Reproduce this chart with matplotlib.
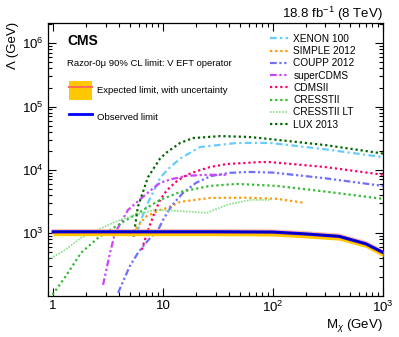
import numpy as np
import matplotlib
matplotlib.use("Agg")
import matplotlib.pyplot as plt
from matplotlib.lines import Line2D
from matplotlib.patches import Patch
from matplotlib.ticker import LogLocator, FixedLocator, FixedFormatter, NullFormatter

plt.rcParams["font.family"] = ["Liberation Sans", "DejaVu Sans"]
plt.rcParams["mathtext.fontset"] = "custom"
plt.rcParams["mathtext.rm"] = "Liberation Sans"
plt.rcParams["mathtext.it"] = "Liberation Sans:italic"

# ----------------------------
# Data
# ----------------------------
# Razor-0mu expected / observed limit
mass_lim = [1, 3, 10, 30, 100, 200, 400, 700, 1000]
obs_lim = [1040, 1040, 1040, 1040, 1030, 960, 880, 670, 490]
exp_lim = [1000, 1000, 1000, 1000, 990, 925, 850, 650, 470]
exp_lo = [900, 900, 900, 900, 890, 830, 765, 585, 420]
exp_hi = [1110, 1110, 1110, 1110, 1100, 1030, 945, 720, 520]

# direct detection experiments
xenon_m = [5.8, 6.3, 7.3, 9.4, 10.9, 14.3, 21.7, 47, 76, 94, 300, 1000]
xenon_l = [1000, 1600, 3000, 7400, 9900, 15000, 22800, 26500, 26500, 26500, 21000, 15800]

simple_m = [5.3, 6.9, 9.4, 10.9, 14.3, 26.7, 60, 109, 195]
simple_l = [1000, 1790, 2300, 2480, 3090, 3570, 3600, 3450, 2980]

coupp_m = [3.9, 5.0, 6.0, 7.5, 9.0, 10, 12, 15, 20, 27, 40, 60, 100, 300, 1000]
coupp_l = [112, 300, 500, 800, 1100, 1600, 2700, 4200, 6200, 7900, 8900, 9200, 9000, 7300, 5530]

scdms_m = [2.85, 3.3, 3.66, 4.8, 6.9, 9.4, 12, 16.5, 25, 38]
scdms_l = [150, 484, 1000, 2300, 4000, 6200, 7100, 8000, 8300, 8300]

cdms_m = [6.4, 7.3, 8.3, 9.4, 10.4, 11.6, 13.4, 16.5, 20.4, 26.7, 38, 53, 76, 94, 300, 1000]
cdms_l = [540, 1100, 2000, 3300, 4300, 5300, 6600, 8300, 9500, 11000, 12300, 12700, 13200, 13200, 11000, 8300]

cresst_m = [0.93, 1.29, 1.8, 2.57, 3.66, 5.56, 9.4, 14.3, 26.7, 47, 109, 300, 1000]
cresst_l = [90, 200, 484, 834, 1245, 1925, 3320, 4440, 5530, 5950, 5530, 4500, 3450]

cresstlt_m = [0.9, 1.29, 1.8, 2.57, 3.66, 5.56, 8.4, 12, 18, 25, 38, 62, 94]
cresstlt_l = [375, 537, 834, 1115, 1490, 1925, 2300, 2250, 2150, 2070, 2770, 3320, 3320]

lux_m = [5.4, 5.9, 7.3, 9.4, 10.9, 14.3, 18.7, 33, 60, 94, 300, 1000]
lux_l = [870, 2570, 7600, 15000, 19000, 26500, 31600, 34000, 33000, 30500, 24500, 18000]

x_ticks = [1, 10, 100, 1000]
x_ticklabels = ["1", "10", "$10^{2}$", "$10^{3}$"]
y_ticks = [1e3, 1e4, 1e5, 1e6]

# ----------------------------
# Figure
# ----------------------------
fig = plt.figure(figsize=(3.99, 3.37), dpi=100)
ax = fig.add_axes([48 / 399, 41 / 337, 335 / 399, 273 / 337])

dot = (0, (1, 1.3))
dashdot = (0, (3, 1.5, 1, 1.5))
dashdotdot = (0, (3, 1.2, 1, 1.2, 1, 1.2))
lw = 1.6

ax.fill_between(mass_lim, exp_lo, exp_hi, color="#ffc800", lw=0, zorder=3)
ax.plot(mass_lim, exp_hi, color="#ff9a80", lw=1.2, alpha=0.7, zorder=3)
ax.plot(mass_lim, exp_lim, color="#ff8a00", lw=1.5, zorder=4)
ax.plot(mass_lim, obs_lim, color="#0000ff", lw=2.2, zorder=5)
ax.plot(mass_lim, obs_lim, color="#000080", lw=0.6, zorder=6)

ax.plot(xenon_m, xenon_l, color="#66ccff", lw=lw, ls=dashdot, label="XENON 100")
ax.plot(simple_m, simple_l, color="#ff9900", lw=lw, ls=dot, label="SIMPLE 2012")
ax.plot(coupp_m, coupp_l, color="#6f6fff", lw=lw, ls=dashdotdot, label="COUPP 2012")
ax.plot(scdms_m, scdms_l, color="#cc44ff", lw=lw, ls=dashdotdot, label="superCDMS")
ax.plot(cdms_m, cdms_l, color="#ff0066", lw=lw, ls=dot, label="CDMSII")
ax.plot(cresst_m, cresst_l, color="#33bb33", lw=lw, ls=dot, label="CRESSTII")
ax.plot(cresstlt_m, cresstlt_l, color="#88e088", lw=1.2, ls=(0, (1, 0.8)), label="CRESSTII LT")
ax.plot(lux_m, lux_l, color="#006600", lw=lw, ls=dot, label="LUX 2013")

ax.set_xscale("log")
ax.set_yscale("log")
ax.set_xlim(0.9, 1000)
ax.set_ylim(100, 2.1e6)

ax.xaxis.set_major_locator(FixedLocator(x_ticks))
ax.xaxis.set_major_formatter(FixedFormatter(x_ticklabels))
ax.xaxis.set_minor_locator(LogLocator(base=10, subs=np.arange(2, 10)))
ax.xaxis.set_minor_formatter(NullFormatter())
ax.yaxis.set_major_locator(FixedLocator(y_ticks))
ax.yaxis.set_minor_locator(LogLocator(base=10, subs=np.arange(2, 10)))
ax.yaxis.set_minor_formatter(NullFormatter())

ax.tick_params(which="both", direction="in", top=True, right=True, labelsize=9.5, pad=3)
ax.tick_params(which="major", length=6, width=0.8)
ax.tick_params(which="minor", length=3, width=0.8)
for sp in ax.spines.values():
    sp.set_linewidth(0.9)

# experiments legend (right)
ax.legend(loc="upper left", bbox_to_anchor=(0.663, 0.96), frameon=False, fontsize=7.3,
          handlelength=1.78, handletextpad=0.5, labelspacing=0.22, borderpad=0, borderaxespad=0)

# limit legend (left)
exp_handle = (Patch(facecolor="#ffc800", edgecolor="none"), Line2D([], [], color="#ff6f4f", lw=1.5))
obs_handle = Line2D([], [], color="#0000ff", lw=2)
fig.legend([exp_handle, obs_handle], ["Expected limit, with uncertainty", "Observed limit"],
           loc="upper left", bbox_to_anchor=(69 / 399, 1 - 81 / 337), frameon=False,
           fontsize=6.8, handlelength=2.44, handleheight=2.72, handletextpad=0.53,
           labelspacing=0.84, borderpad=0, borderaxespad=0)

ax.text(0.057, 0.934, "CMS", transform=ax.transAxes, fontsize=10, fontweight="bold", va="center")
ax.text(0.057, 0.853, "Razor-0\u03bc 90% CL limit: V EFT operator", transform=ax.transAxes,
        fontsize=6.8, va="center")

fig.text(383 / 399, 1 - 18 / 337, "18.8 fb$^{-1}$ (8 TeV)", ha="right", va="baseline", fontsize=9.5)
fig.text(383 / 399, 1 - 328 / 337, "M$_{\\chi}$ (GeV)", ha="right", va="baseline", fontsize=9.5)
fig.text(13 / 399, 1 - 22 / 337, "\u039b (GeV)", rotation=90, ha="center", va="top", fontsize=9.5)

fig.savefig("out.png", dpi=100)
